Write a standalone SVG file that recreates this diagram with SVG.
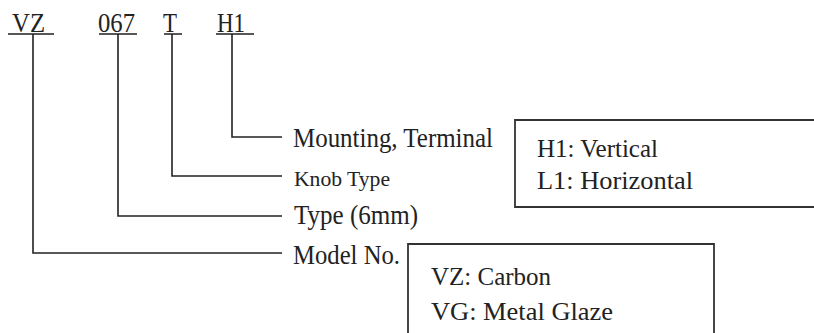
<svg xmlns="http://www.w3.org/2000/svg" width="814" height="333" viewBox="0 0 814 333">
<style>
text{font-family:"Liberation Serif","Times New Roman",serif;fill:#222}
.t{font-size:28px}
.s{font-size:21px}
.b{font-size:25px}
.ln{fill:none;stroke:#222;stroke-width:1.6}
.bx{fill:none;stroke:#333;stroke-width:1.8}
</style>
<rect width="814" height="333" fill="#fff"/>
<g id="code">
<text class="t" x="12" y="32" textLength="33" lengthAdjust="spacingAndGlyphs">VZ</text>
<text class="t" x="98" y="32" textLength="37" lengthAdjust="spacingAndGlyphs">067</text>
<text class="t" x="163" y="32" textLength="14" lengthAdjust="spacingAndGlyphs">T</text>
<text class="t" x="217" y="32" textLength="28" lengthAdjust="spacingAndGlyphs">H1</text>
</g>
<g id="connectors">
<path class="ln" d="M8 34H54M99 34H137M164 34H182M216 34H254"/>
<path class="ln" d="M232 34V137H282"/>
<path class="ln" d="M172 34V176H282"/>
<path class="ln" d="M118 34V216H282"/>
<path class="ln" d="M33 34V253H282"/>
</g>
<g id="mounting">
<text class="t" x="293" y="147" textLength="200" lengthAdjust="spacingAndGlyphs">Mounting, Terminal</text>
</g>
<g id="knob">
<text class="s" x="294" y="186" textLength="96" lengthAdjust="spacingAndGlyphs">Knob Type</text>
</g>
<g id="type">
<text class="t" x="294" y="224" textLength="124" lengthAdjust="spacingAndGlyphs">Type (6mm)</text>
</g>
<g id="model">
<text class="t" x="293" y="264" textLength="107" lengthAdjust="spacingAndGlyphs">Model No.</text>
</g>
<g id="box-terminal">
<path class="bx" d="M814 120H515V207H814"/>
<text class="b" x="537" y="157" textLength="121" lengthAdjust="spacingAndGlyphs">H1: Vertical</text>
<text class="b" x="537" y="189" textLength="156" lengthAdjust="spacingAndGlyphs">L1: Horizontal</text>
</g>
<g id="box-model">
<path class="bx" d="M408 333V244H714V333"/>
<text class="b" x="431" y="285" textLength="120" lengthAdjust="spacingAndGlyphs">VZ: Carbon</text>
<text class="b" x="431" y="320" textLength="182" lengthAdjust="spacingAndGlyphs">VG: Metal Glaze</text>
</g>
</svg>
